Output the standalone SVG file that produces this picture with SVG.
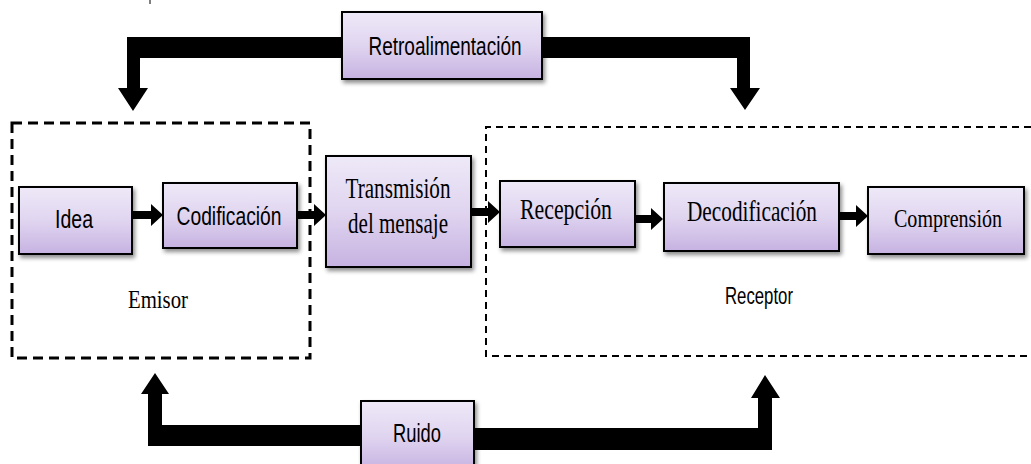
<svg xmlns="http://www.w3.org/2000/svg" width="1031" height="464" viewBox="0 0 1031 464">
<defs>
<linearGradient id="g" x1="0" y1="0" x2="0" y2="1">
<stop offset="0" stop-color="#eee9f8"/>
<stop offset="0.5" stop-color="#e0d5f0"/>
<stop offset="1" stop-color="#c6b2e1"/>
</linearGradient>
<filter id="sh" x="-10%" y="-10%" width="125%" height="135%">
<feDropShadow dx="2" dy="3" stdDeviation="2" flood-color="#000" flood-opacity="0.45"/>
</filter>
<filter id="sh2" filterUnits="userSpaceOnUse" x="860" y="180" width="171" height="85">
<feDropShadow dx="2" dy="3" stdDeviation="2" flood-color="#000" flood-opacity="0.45"/>
</filter>
<style>
.box{fill:url(#g);stroke:#000;stroke-width:2;filter:url(#sh)}
.sans{font-family:"Liberation Sans",Arial,sans-serif;fill:#000}
.serif{font-family:"Liberation Serif","Times New Roman",serif;fill:#000}
.big{fill:#000}
</style>
</defs>
<rect width="1031" height="464" fill="#fff"/>
<line x1="150" y1="0" x2="150" y2="4" stroke="#000" stroke-width="1"/>

<g id="emisor">
<rect x="12" y="123" width="298" height="235" fill="none" stroke="#000" stroke-width="3" stroke-dasharray="10 6"/>
<text class="serif" x="158" y="308" font-size="26" text-anchor="middle" textLength="60" lengthAdjust="spacingAndGlyphs">Emisor</text>
</g>
<g id="receptor">
<path d="M1031,127 H486 V356 H1031" fill="none" stroke="#000" stroke-width="2" stroke-dasharray="7 5"/>
<text class="sans" x="759" y="304" font-size="23" text-anchor="middle" textLength="68" lengthAdjust="spacingAndGlyphs">Receptor</text>
</g>

<g id="connectors">
<polygon class="big" points="342,37 127,37 127,88 118,88 133,111 148,88 140,88 140,58 342,58"/>
<polygon class="big" points="542,37 750,37 750,88 760,88 745,110 730,88 737,88 737,58 542,58"/>
<polygon class="big" points="361,425 162,425 162,394 169,394 155,373 141,394 148,394 148,446 361,446"/>
<polygon class="big" points="474,428 758,428 758,398 751,398 765,375 780,398 772,398 772,450 474,450"/>
<polygon class="big" points="132,211 151,211 151,204 163,215 151,226 151,219 132,219"/>
<polygon class="big" points="297,211 314,211 314,204 326,215 314,226 314,219 297,219"/>
<polygon class="big" points="471,208 488,208 488,201 500,212 488,223 488,216 471,216"/>
<polygon class="big" points="635,215 651,215 651,208 663,219 651,230 651,223 635,223"/>
<polygon class="big" points="839,212 856,212 856,205 868,216 856,227 856,220 839,220"/>
</g>

<g id="retroalimentacion">
<rect class="box" x="342" y="12" width="200" height="67"/>
<text class="sans" x="445" y="55" font-size="26" text-anchor="middle" textLength="153" lengthAdjust="spacingAndGlyphs">Retroalimentación</text>
</g>
<g id="idea">
<rect class="box" x="19" y="187" width="113" height="67"/>
<text class="sans" x="74" y="228" font-size="25" text-anchor="middle" textLength="38" lengthAdjust="spacingAndGlyphs">Idea</text>
</g>
<g id="codificacion">
<rect class="box" x="163" y="183" width="134" height="65"/>
<text class="sans" x="229" y="225" font-size="26" text-anchor="middle" textLength="105" lengthAdjust="spacingAndGlyphs">Codificación</text>
</g>
<g id="transmision">
<rect class="box" x="326" y="156" width="145" height="111"/>
<text class="serif" x="398" y="198" font-size="29" text-anchor="middle" textLength="105" lengthAdjust="spacingAndGlyphs">Transmisión</text>
<text class="serif" x="398" y="233" font-size="29" text-anchor="middle" textLength="100" lengthAdjust="spacingAndGlyphs">del mensaje</text>
</g>
<g id="recepcion">
<rect class="box" x="500" y="181" width="135" height="66"/>
<text class="serif" x="566" y="219" font-size="29" text-anchor="middle" textLength="92" lengthAdjust="spacingAndGlyphs">Recepción</text>
</g>
<g id="decodificacion">
<rect class="box" x="664" y="183" width="175" height="68"/>
<text class="serif" x="752" y="221" font-size="29" text-anchor="middle" textLength="130" lengthAdjust="spacingAndGlyphs">Decodificación</text>
</g>
<g id="comprension">
<rect class="box" x="868" y="187" width="156" height="67" style="filter:url(#sh2)"/>
<text class="serif" x="948" y="227" font-size="26" text-anchor="middle" textLength="108" lengthAdjust="spacingAndGlyphs">Comprensión</text>
</g>
<g id="ruido">
<rect class="box" x="361" y="401" width="113" height="70"/>
<text class="sans" x="417" y="442" font-size="25" text-anchor="middle" textLength="48" lengthAdjust="spacingAndGlyphs">Ruido</text>
</g>
</svg>
